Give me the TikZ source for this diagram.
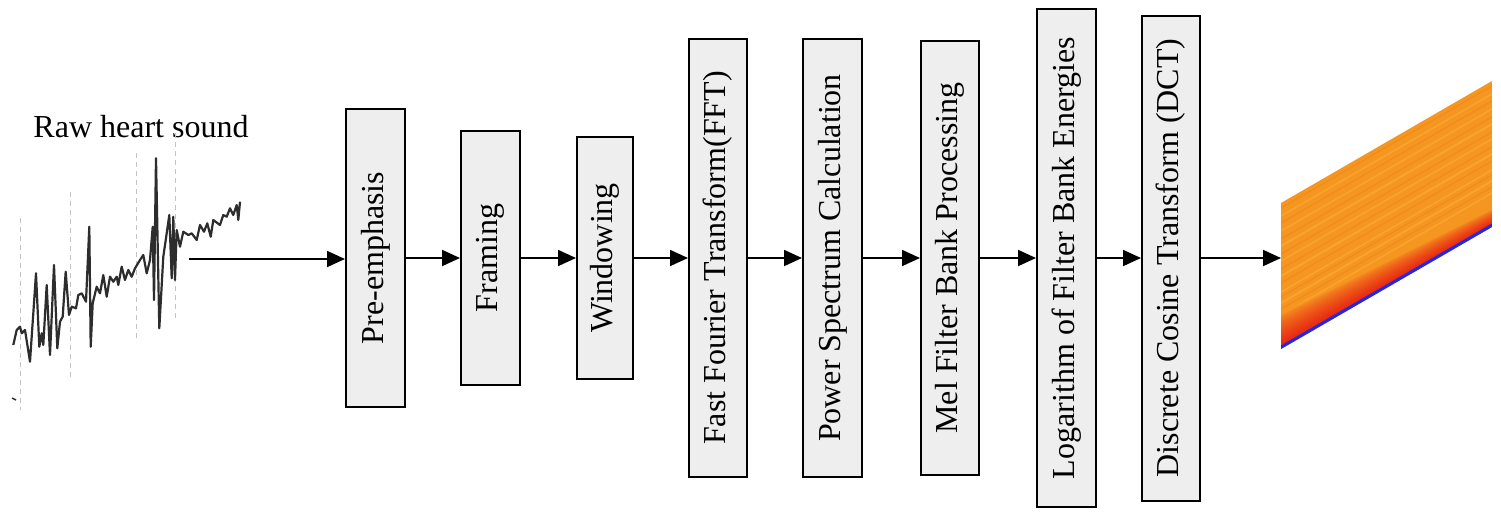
\documentclass[tikz,border=0pt]{standalone}
\usepackage{fontspec}
\setmainfont{Liberation Serif}
\usetikzlibrary{arrows.meta}
\definecolor{boxfill}{RGB}{238,238,238}
\definecolor{wave}{RGB}{45,45,45}
\definecolor{dashgray}{RGB}{195,195,195}
\definecolor{specorange}{RGB}{245,150,32}
\definecolor{speclight}{RGB}{249,164,45}
\definecolor{specdark}{RGB}{240,138,28}
\definecolor{specred}{RGB}{232,38,18}
\definecolor{specblue}{RGB}{35,40,225}
\begin{document}
\begin{tikzpicture}[x=1pt,y=-1pt,
  stagebox/.style={draw=black,line width=2pt,fill=boxfill,rotate=90,inner sep=0pt,
    font=\fontsize{32}{36}\selectfont},
  flow/.style={line width=1.8pt,-{Triangle[length=18pt,width=16pt]}},
  frameline/.style={dashgray,line width=1pt,dash pattern=on 5pt off 4pt}]
\useasboundingbox (0,0) rectangle (1501,515);

% label
\node[anchor=base,font=\fontsize{32}{36}\selectfont,inner sep=0pt] (lbl) at (141,137) {Raw heart sound};

% frame markers
\draw[frameline] (20.7,218) -- (20.7,410);
\draw[frameline] (70,192) -- (70,380);
\draw[frameline] (136,153) -- (136,342);
\draw[frameline] (175,133) -- (175,318);

% waveform
\draw[wave,line width=2.2pt,line join=round] (13.3,345) -- (16.7,330) -- (20,326.7) -- (21.7,333.3) -- (25,330) -- (30,361.7) -- (33.3,313.3) -- (36,273.3) -- (39.3,346.7) -- (41.7,333.3) -- (43.3,345) -- (46.7,285) -- (50,355) -- (54,265) -- (57.3,348.3) -- (60,321.7) -- (62.7,316.7) -- (65.7,271.7) -- (69,315) -- (71.7,306.7) -- (76,308.3) -- (78.3,295) -- (81.7,293.3) -- (86,301.7) -- (89.3,226.7) -- (90.7,346.7) -- (92.7,303.3) -- (96.7,286.7) -- (100,293.3) -- (103.3,275) -- (106.7,296.7) -- (110,276.7) -- (113.3,281.7) -- (116.7,276.7) -- (118.3,285) -- (121.7,266.7) -- (125,280) -- (128.3,270) -- (131.7,276.7) -- (135,268.3) -- (140,260) -- (143.3,255) -- (146.7,273.3) -- (150,260) -- (152.7,226.7) -- (154,300) -- (156,158.3) -- (159.3,328.3) -- (163.3,256.7) -- (166.7,233.3) -- (169.3,215) -- (171.7,278.3) -- (173.3,216.7) -- (175,280) -- (176.7,230) -- (180,246.7) -- (183.3,231.7) -- (188.3,235) -- (191.7,233.3) -- (196.7,240) -- (200,225) -- (204,231.7) -- (207.3,223.3) -- (210.7,236.7) -- (213.3,220) -- (220,225) -- (223.3,215) -- (226.7,216.7) -- (230,208.3) -- (233.3,215) -- (236.7,205) -- (238.3,220) -- (240,201.7);
\draw[wave,line width=1.5pt] (12,398) -- (16,400);

% spectrogram
\begin{scope}
  \clip (1281,203) -- (1492,81) -- (1492,227) -- (1281,349) -- cycle;
  \fill[specorange] (1281,70) rectangle (1492,360);
  \foreach \d/\c/\w in {34/speclight/1.5,40/specdark/1,46/speclight/2,52/specdark/1,57/speclight/1.5,66/specdark/1,73/speclight/2,80/specdark/1,88/speclight/1.5,95/specdark/1,103/speclight/2,110/specdark/1,118/speclight/1.5,126/specdark/1,133/speclight/1.5,141/specdark/1}
    \draw[\c,line width=\w pt] (1281,{349-\d}) -- (1492,{227-\d});
  \foreach \k in {0,...,26}{
    \pgfmathsetmacro\m{100*((26-\k)/26)^0.7}
    \fill[specred!\m!specorange] (1281,{346-1.2*\k}) -- (1492,{224-0.55*\k}) -- (1492,{224-0.55*(\k+1)-0.3}) -- (1281,{346-1.2*(\k+1)-0.3}) -- cycle;
  }
  \fill[specblue] (1281,352) -- (1492,230) -- (1492,223.5) -- (1281,345.5) -- cycle;
\end{scope}

% stages
\node[stagebox,minimum width=298pt,minimum height=59pt] (pre) at (375.5,258) {Pre-emphasis};
\node[stagebox,minimum width=254pt,minimum height=59pt] (fram) at (490.5,258) {Framing};
\node[stagebox,minimum width=242pt,minimum height=56pt] (win) at (605,258) {Windowing};
\node[stagebox,minimum width=438pt,minimum height=58pt] (fft) at (718,258) {Fast Fourier Transform(FFT)};
\node[stagebox,minimum width=438pt,minimum height=59pt] (pow) at (832.5,258) {Power Spectrum Calculation};
\node[stagebox,minimum width=434pt,minimum height=58pt] (mel) at (950,258) {Mel Filter Bank Processing};
\node[stagebox,minimum width=498pt,minimum height=59pt] (logb) at (1066.5,258) {Logarithm of Filter Bank Energies};
\node[stagebox,minimum width=485pt,minimum height=58pt] (dct) at (1171,258) {Discrete Cosine Transform (DCT)};

\coordinate (wend) at (189,259);
\coordinate (spec) at (1281,258);

\draw[flow] (wend) -- (pre.north |- wend);
\draw[flow] (pre) -- (fram);
\draw[flow] (fram) -- (win);
\draw[flow] (win) -- (fft);
\draw[flow] (fft) -- (pow);
\draw[flow] (pow) -- (mel);
\draw[flow] (mel) -- (logb);
\draw[flow] (logb) -- (dct);
\draw[flow] (dct) -- (spec);
\end{tikzpicture}
\end{document}
